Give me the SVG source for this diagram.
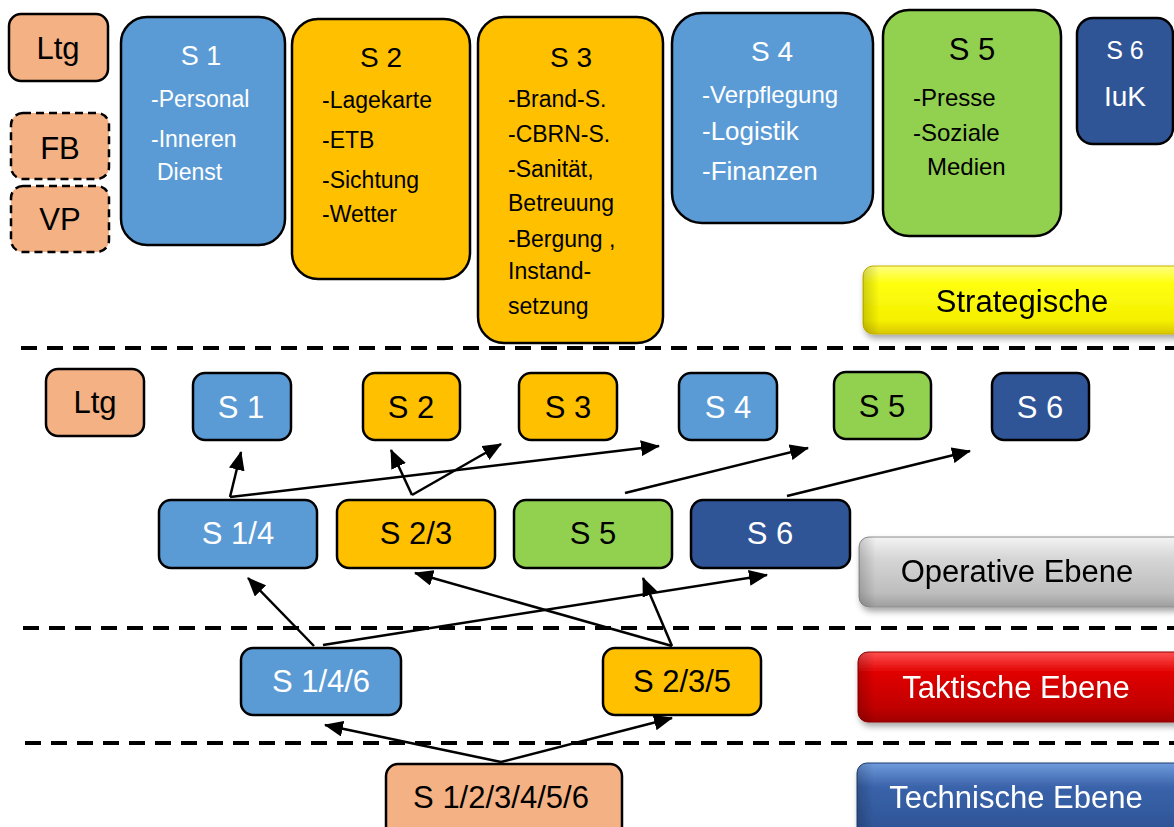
<svg xmlns="http://www.w3.org/2000/svg" width="1174" height="827" viewBox="0 0 1174 827">
  <style>
    text { font-family: "Liberation Sans", Arial, sans-serif; }
    .box { stroke: #000; stroke-width: 2.5; }
    .peach { fill: #F4B183; }
    .blue { fill: #5B9BD5; }
    .gold { fill: #FFC000; }
    .green { fill: #92D050; }
    .navy { fill: #2F5597; }
    .dash { stroke-dasharray: 8 5; }
    .w { fill: #fff; }
    .k { fill: #000; }
    .c { text-anchor: middle; }
    .lbl { font-size: 31px; }
    .item { font-size: 23px; }
    .badge { font-size: 31px; }
    .sep { stroke: #000; stroke-width: 4; stroke-dasharray: 16 10; fill: none; }
    .conn line { stroke: #000; stroke-width: 2.5; marker-end: url(#arrow); }
  </style>
  <defs>
    <marker id="arrow" markerUnits="userSpaceOnUse" markerWidth="20" markerHeight="16" refX="18" refY="8" orient="auto">
      <path d="M0,0 L19,8 L0,16 Z" fill="#000"/>
    </marker>
    <filter id="shadow" x="-10%" y="-20%" width="130%" height="160%">
      <feDropShadow dx="2" dy="4" stdDeviation="3" flood-color="#000" flood-opacity="0.35"/>
    </filter>
    <linearGradient id="gYellow" x1="0" y1="0" x2="0" y2="1">
      <stop offset="0" stop-color="#FFFF80"/>
      <stop offset="0.25" stop-color="#FFFF10"/>
      <stop offset="0.8" stop-color="#F5F000"/>
      <stop offset="1" stop-color="#D9C800"/>
    </linearGradient>
    <linearGradient id="gGrey" x1="0" y1="0" x2="0" y2="1">
      <stop offset="0" stop-color="#F4F4F4"/>
      <stop offset="0.3" stop-color="#D6D6D6"/>
      <stop offset="0.8" stop-color="#BDBDBD"/>
      <stop offset="1" stop-color="#9E9E9E"/>
    </linearGradient>
    <linearGradient id="gRed" x1="0" y1="0" x2="0" y2="1">
      <stop offset="0" stop-color="#FF5050"/>
      <stop offset="0.3" stop-color="#E00000"/>
      <stop offset="0.8" stop-color="#C00000"/>
      <stop offset="1" stop-color="#A00000"/>
    </linearGradient>
    <linearGradient id="gBlue" x1="0" y1="0" x2="0" y2="1">
      <stop offset="0" stop-color="#6F9BDC"/>
      <stop offset="0.3" stop-color="#3A63AA"/>
      <stop offset="0.8" stop-color="#2F5597"/>
      <stop offset="1" stop-color="#254580"/>
    </linearGradient>
    <linearGradient id="gEdge" x1="0" y1="0" x2="1" y2="0">
      <stop offset="0" stop-color="#000" stop-opacity="0.18"/>
      <stop offset="0.05" stop-color="#000" stop-opacity="0"/>
      <stop offset="1" stop-color="#000" stop-opacity="0"/>
    </linearGradient>
  </defs>

  <rect width="1174" height="827" fill="#fff"/>

  <!-- level separators -->
  <g id="separators">
    <line class="sep" x1="21" y1="348" x2="1174" y2="348"/>
    <line class="sep" x1="23" y1="628" x2="1174" y2="628"/>
    <line class="sep" x1="25" y1="743" x2="1174" y2="743"/>
  </g>

  <!-- level badges -->
  <g id="badge-strategisch" filter="url(#shadow)">
    <rect x="863" y="266" width="330" height="68" rx="10" fill="url(#gYellow)" stroke="#C8B400" stroke-width="1"/>
    <rect x="863" y="266" width="330" height="68" rx="10" fill="url(#gEdge)"/>
    <text x="1022" y="312" class="c k badge">Strategische</text>
  </g>
  <g id="badge-operativ" filter="url(#shadow)">
    <rect x="859" y="537" width="334" height="70" rx="10" fill="url(#gGrey)" stroke="#8C8C8C" stroke-width="1"/>
    <rect x="859" y="537" width="334" height="70" rx="10" fill="url(#gEdge)"/>
    <text x="1017" y="582" class="c k badge">Operative Ebene</text>
  </g>
  <g id="badge-taktisch" filter="url(#shadow)">
    <rect x="858" y="652" width="335" height="70" rx="10" fill="url(#gRed)" stroke="#900000" stroke-width="1"/>
    <rect x="858" y="652" width="335" height="70" rx="10" fill="url(#gEdge)"/>
    <text x="1016" y="698" class="c w badge">Taktische Ebene</text>
  </g>
  <g id="badge-technisch" filter="url(#shadow)">
    <rect x="857" y="763" width="336" height="80" rx="10" fill="url(#gBlue)" stroke="#1F3D73" stroke-width="1"/>
    <rect x="857" y="763" width="336" height="80" rx="10" fill="url(#gEdge)"/>
    <text x="1016" y="808" class="c w badge">Technische Ebene</text>
  </g>

  <!-- strategic level -->
  <g id="top-ltg">
    <rect class="box peach" x="9" y="14" width="99" height="67" rx="12"/>
    <text x="58" y="59" class="c k lbl">Ltg</text>
  </g>
  <g id="top-fb">
    <rect class="box peach dash" x="11" y="113" width="98" height="66" rx="12"/>
    <text x="60" y="159" class="c k lbl">FB</text>
  </g>
  <g id="top-vp">
    <rect class="box peach dash" x="11" y="186" width="98" height="66" rx="12"/>
    <text x="60" y="230" class="c k lbl">VP</text>
  </g>
  <g id="top-s1">
    <rect class="box blue" x="121" y="17" width="164" height="228" rx="26"/>
    <text x="201" y="65" class="c w" font-size="27">S 1</text>
    <text x="151" y="107" class="w item">-Personal</text>
    <text x="151" y="147" class="w item">-Inneren</text>
    <text x="157" y="180" class="w item">Dienst</text>
  </g>
  <g id="top-s2">
    <rect class="box gold" x="292" y="19" width="178" height="260" rx="26"/>
    <text x="381" y="67" class="c k" font-size="28">S 2</text>
    <text x="322" y="108" class="k item">-Lagekarte</text>
    <text x="322" y="148" class="k item">-ETB</text>
    <text x="322" y="188" class="k item">-Sichtung</text>
    <text x="322" y="222" class="k item">-Wetter</text>
  </g>
  <g id="top-s3">
    <rect class="box gold" x="478" y="17" width="185" height="326" rx="26"/>
    <text x="571" y="67" class="c k" font-size="28">S 3</text>
    <text x="508" y="107" class="k item">-Brand-S.</text>
    <text x="508" y="142" class="k item">-CBRN-S.</text>
    <text x="508" y="177" class="k item">-Sanität,</text>
    <text x="508" y="211" class="k item">Betreuung</text>
    <text x="508" y="247" class="k item">-Bergung ,</text>
    <text x="508" y="279" class="k item">Instand-</text>
    <text x="508" y="314" class="k item">setzung</text>
  </g>
  <g id="top-s4">
    <rect class="box blue" x="672" y="13" width="201" height="210" rx="30"/>
    <text x="772" y="61" class="c w" font-size="28">S 4</text>
    <text x="702" y="103" class="w" font-size="24">-Verpflegung</text>
    <text x="702" y="140" class="w" font-size="26">-Logistik</text>
    <text x="702" y="180" class="w" font-size="26">-Finanzen</text>
  </g>
  <g id="top-s5">
    <rect class="box green" x="883" y="10" width="178" height="226" rx="26"/>
    <text x="972" y="60" class="c k" font-size="31">S 5</text>
    <text x="913" y="106" class="k" font-size="24">-Presse</text>
    <text x="913" y="141" class="k" font-size="24">-Soziale</text>
    <text x="927" y="175" class="k" font-size="24">Medien</text>
  </g>
  <g id="top-s6">
    <rect class="box navy" x="1077" y="18" width="96" height="126" rx="16"/>
    <text x="1125" y="59" class="c w" font-size="25">S 6</text>
    <text x="1125" y="106" class="c w" font-size="28">IuK</text>
  </g>

  <!-- operative level, upper row -->
  <g id="op-ltg">
    <rect class="box peach" x="46" y="369" width="98" height="67" rx="12"/>
    <text x="95" y="413" class="c k lbl">Ltg</text>
  </g>
  <g id="op-s1">
    <rect class="box blue" x="193" y="373" width="98" height="67" rx="12"/>
    <text x="241" y="418" class="c w lbl">S 1</text>
  </g>
  <g id="op-s2">
    <rect class="box gold" x="363" y="373" width="97" height="67" rx="12"/>
    <text x="411" y="418" class="c k lbl">S 2</text>
  </g>
  <g id="op-s3">
    <rect class="box gold" x="519" y="373" width="98" height="67" rx="12"/>
    <text x="568" y="418" class="c k lbl">S 3</text>
  </g>
  <g id="op-s4">
    <rect class="box blue" x="679" y="373" width="98" height="67" rx="12"/>
    <text x="728" y="418" class="c w lbl">S 4</text>
  </g>
  <g id="op-s5">
    <rect class="box green" x="834" y="372" width="97" height="67" rx="12"/>
    <text x="882" y="417" class="c k lbl">S 5</text>
  </g>
  <g id="op-s6">
    <rect class="box navy" x="992" y="373" width="97" height="67" rx="12"/>
    <text x="1040" y="418" class="c w lbl">S 6</text>
  </g>

  <!-- operative level, combined sections -->
  <g id="op-s14">
    <rect class="box blue" x="159" y="500" width="158" height="68" rx="12"/>
    <text x="238" y="544" class="c w lbl">S 1/4</text>
  </g>
  <g id="op-s23">
    <rect class="box gold" x="337" y="500" width="158" height="68" rx="12"/>
    <text x="416" y="544" class="c k lbl">S 2/3</text>
  </g>
  <g id="op-s5b">
    <rect class="box green" x="514" y="500" width="158" height="68" rx="12"/>
    <text x="593" y="544" class="c k lbl">S 5</text>
  </g>
  <g id="op-s6b">
    <rect class="box navy" x="691" y="500" width="159" height="68" rx="12"/>
    <text x="770" y="544" class="c w lbl">S 6</text>
  </g>

  <!-- tactical level -->
  <g id="tak-s146">
    <rect class="box blue" x="241" y="648" width="160" height="67" rx="12"/>
    <text x="321" y="692" class="c w lbl">S 1/4/6</text>
  </g>
  <g id="tak-s235">
    <rect class="box gold" x="603" y="648" width="158" height="67" rx="12"/>
    <text x="682" y="692" class="c k lbl">S 2/3/5</text>
  </g>

  <!-- technical level -->
  <g id="tech-all">
    <rect class="box peach" x="386" y="764" width="236" height="80" rx="12"/>
    <text x="501" y="808" class="c k lbl">S 1/2/3/4/5/6</text>
  </g>

  <!-- connectors -->
  <g id="connectors" class="conn">
    <line x1="230" y1="497" x2="241" y2="452"/>
    <line x1="230" y1="497" x2="659" y2="446"/>
    <line x1="412" y1="495" x2="391" y2="450"/>
    <line x1="412" y1="495" x2="501" y2="444"/>
    <line x1="625" y1="493" x2="808" y2="448"/>
    <line x1="787" y1="496" x2="970" y2="451"/>
    <line x1="314" y1="646" x2="248" y2="578"/>
    <line x1="323" y1="645" x2="767" y2="575"/>
    <line x1="672" y1="646" x2="415" y2="573"/>
    <line x1="672" y1="646" x2="643" y2="578"/>
    <line x1="501" y1="762" x2="325" y2="725"/>
    <line x1="501" y1="762" x2="672" y2="718"/>
  </g>
</svg>
